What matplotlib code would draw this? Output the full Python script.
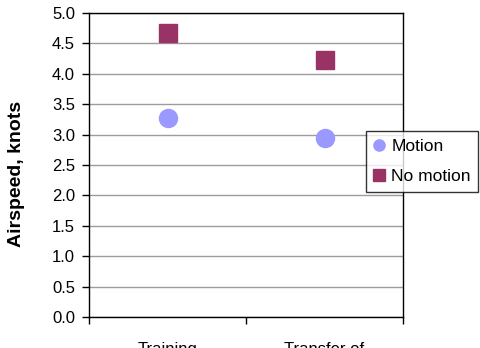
import matplotlib
matplotlib.use('Agg')
import matplotlib.pyplot as plt

categories = ['Training', 'Transfer of\ntraining']
motion = [3.27, 2.95]
no_motion = [4.67, 4.23]
yticks = [0.0, 0.5, 1.0, 1.5, 2.0, 2.5, 3.0, 3.5, 4.0, 4.5, 5.0]

plt.rcParams['font.family'] = ['Liberation Sans', 'DejaVu Sans']

fig = plt.figure(figsize=(4.8, 3.48), dpi=100)
ax = fig.add_axes([89/480, 1 - 317/348, (403-89)/480, (317-13)/348])

x = list(range(len(categories)))
ax.plot(x, motion, 'o', color='#9999FF', markersize=13, label='Motion', zorder=3)
ax.plot(x, no_motion, 's', color='#993366', markersize=13, label='No motion', zorder=3)

ax.set_xlim(-0.5, len(categories) - 0.5)
ax.set_ylim(0, 5)
ax.set_yticks(yticks)
ax.set_yticklabels(['%.1f' % v for v in yticks], fontsize=12)
ax.yaxis.grid(True, color='#9c9c9c', linewidth=1)
ax.set_axisbelow(True)

ax.set_xticks([i - 0.5 for i in range(len(categories) + 1)])
ax.set_xticklabels([])
ax.set_xticks(x, minor=True)
ax.set_xticklabels(categories, minor=True, fontsize=12, va='top')
ax.tick_params(axis='x', which='minor', length=0, pad=18)
ax.tick_params(axis='both', which='major', length=5, width=1, direction='out', color='black')
ax.tick_params(axis='y', which='major', pad=5)

for s in ax.spines.values():
    s.set_color('black')
    s.set_linewidth(1)

ax.set_ylabel('Airspeed, knots', fontsize=14, fontweight='bold')
ax.yaxis.set_label_coords(25/480, 0.5, transform=fig.transFigure)

leg = ax.legend(loc='upper left', bbox_to_anchor=(366/480, 1 - 131/348), bbox_transform=fig.transFigure,
                frameon=True, fancybox=False, fontsize=12.5, handlelength=0.6, handletextpad=0.4,
                borderpad=0.45, labelspacing=0.85, markerscale=0.62, borderaxespad=0)
leg.get_frame().set_edgecolor('black')
leg.get_frame().set_linewidth(1)

fig.savefig('out.png', dpi=100)
